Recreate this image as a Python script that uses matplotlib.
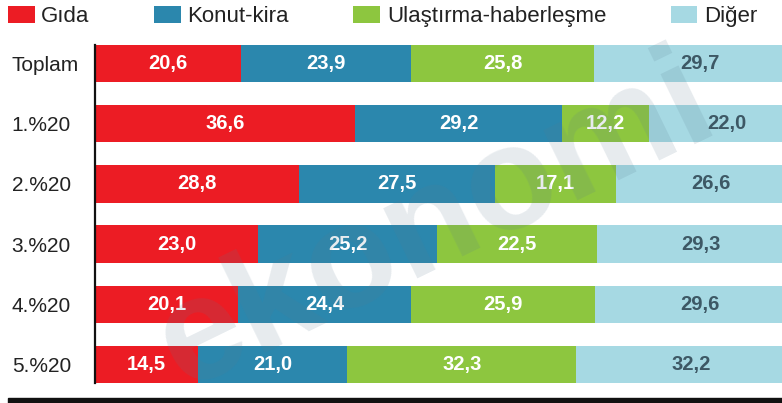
import matplotlib
matplotlib.use("Agg")
import matplotlib.pyplot as plt
import numpy as np
from matplotlib.patches import Rectangle

categories = ["Toplam", "1.%20", "2.%20", "3.%20", "4.%20", "5.%20"]
series_names = ["Gıda", "Konut-kira", "Ulaştırma-haberleşme", "Diğer"]
gida = [20.6, 36.6, 28.8, 23.0, 20.1, 14.5]
konut = [23.9, 29.2, 27.5, 25.2, 24.4, 21.0]
ulastirma = [25.8, 12.2, 17.1, 22.5, 25.9, 32.3]
diger = [29.7, 22.0, 26.6, 29.3, 29.6, 32.2]

colors = ["#ec1c24", "#2b87ad", "#8dc63f", "#a6d9e3"]
label_colors = ["white", "white", "white", "#3d5865"]

FONT = ["Liberation Sans", "DejaVu Sans"]
plt.rcParams["font.family"] = FONT

fig = plt.figure(figsize=(7.82, 4.03), dpi=100)
ax = fig.add_axes([95 / 782, 1 - 383 / 403, 710 / 782, (383 - 45) / 403])

y = np.arange(len(categories))
left = np.zeros(len(categories))
handles = []
for vals, name, c, lc in zip([gida, konut, ulastirma, diger], series_names, colors, label_colors):
    vals = np.array(vals)
    bars = ax.barh(y, vals, left=left, height=0.62, color=c, label=name, zorder=2)
    handles.append(bars)
    for yi, l, v in zip(y, left, vals):
        ax.text(l + v / 2, yi, f"{v:.1f}".replace(".", ","), ha="center", va="center",
                color=lc, fontsize=14.5, fontweight="bold", zorder=3)
    left += vals

ax.set_xlim(0, 100)
ax.set_ylim(len(categories) - 1 + 0.31, -0.31)
ax.set_yticks(y)
ax.set_yticklabels(categories, fontsize=15, color="#222222", ha="left")
ax.tick_params(axis="y", length=0, pad=60)
ax.set_xticks([])
for s in ["top", "right", "bottom"]:
    ax.spines[s].set_visible(False)
ax.spines["left"].set_linewidth(1.6)
ax.spines["left"].set_color("#111111")
ax.spines["left"].set_zorder(4)

# watermark
ax.text(0.48, 0.47, "ekonomi", transform=ax.transAxes, fontsize=105, fontweight="bold",
        color="#5a7a90", alpha=0.15, rotation=26, ha="center", va="center", zorder=5)

fig.legend(handles=handles, labels=series_names, loc="upper left",
           bbox_to_anchor=(8 / 782, 1 - 6 / 403), ncol=4, frameon=False,
           fontsize=16, handlelength=1.2, handleheight=0.8, handletextpad=0.3,
           columnspacing=2.9, borderpad=0, borderaxespad=0, labelcolor="#222222")

fig.add_artist(Rectangle((8 / 782, 0), 1, 5 / 403, transform=fig.transFigure,
                         color="#111111", zorder=10))

fig.savefig("out.png", dpi=100)
